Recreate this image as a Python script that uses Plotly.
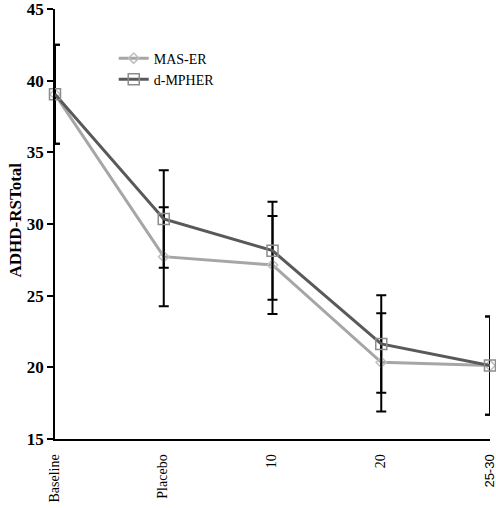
import plotly.graph_objects as go

categories = ["Baseline", "Placebo", "10", "20", "25-30"]
tick_labels = ["Baseline", "Placebo", "10", "20",
               "<span style='font-family:Liberation Sans;font-size:13px'>25-30</span>"]
mas_er = [39.05, 27.72, 27.14, 20.35, 20.12]
mas_er_err = [3.45, 3.45, 3.42, 3.43, 3.43]
dmph_er = [39.05, 30.35, 28.14, 21.63, 20.12]
dmph_er_err = [3.45, 3.40, 3.42, 3.40, 3.43]
y_title = "ADHD-RSTotal"

SERIF = "Liberation Serif"

fig = go.Figure()
fig.add_trace(go.Scatter(
    x=categories, y=mas_er, name="MAS-ER", mode="lines+markers",
    line=dict(color="#a6a6a6", width=3), cliponaxis=False,
    marker=dict(symbol="diamond-open", size=8, color="#bfbfbf", line=dict(width=1.5)),
    error_y=dict(type="data", array=mas_er_err, color="black", thickness=2, width=5),
))
fig.add_trace(go.Scatter(
    x=categories, y=dmph_er, name="d-MPHER", mode="lines+markers",
    line=dict(color="#595959", width=3), cliponaxis=False,
    marker=dict(symbol="square-open", size=11, color="#8c8c8c", line=dict(width=1.5)),
    error_y=dict(type="data", array=dmph_er_err, color="black", thickness=2, width=5),
))

fig.update_layout(
    width=496, height=508,
    margin=dict(l=55, r=6, t=9, b=69),
    paper_bgcolor="white", plot_bgcolor="white",
    font=dict(family=SERIF, color="black"),
    showlegend=True,
    legend=dict(x=0.135, y=0.922, xanchor="left", yanchor="top",
                font=dict(family=SERIF, size=14, color="black"),
                bgcolor="rgba(0,0,0,0)", tracegroupgap=9, itemwidth=30),
    annotations=[dict(text=y_title, textangle=-90, xref="paper", yref="paper",
                      x=-0.09, y=0.51, xanchor="center", yanchor="middle", showarrow=False,
                      font=dict(family=SERIF, size=17, color="black", weight="bold"))],
)
fig.update_xaxes(
    type="category", range=[0, 4], showgrid=False, zeroline=False, automargin=False,
    tickvals=categories, ticktext=tick_labels,
    showline=True, linecolor="black", linewidth=1.5, ticklabeloverflow="allow",
    ticks="outside", ticklen=8, tickcolor="rgba(0,0,0,0)", ticklabelshift=-1,
    tickangle=-90, tickfont=dict(family=SERIF, size=14, color="black"),
)
fig.update_yaxes(
    range=[15, 45], dtick=5, showgrid=False, zeroline=False, automargin=False,
    showline=True, linecolor="black", linewidth=1.5, ticklabeloverflow="allow",
    ticks="outside", ticklen=6, tickwidth=1.5, tickcolor="black",
    tickfont=dict(family=SERIF, size=17, color="black", weight="bold"),
)

fig.write_html("out.html", config={"displayModeBar": False},
               post_script="document.body.style.margin='0px';")
